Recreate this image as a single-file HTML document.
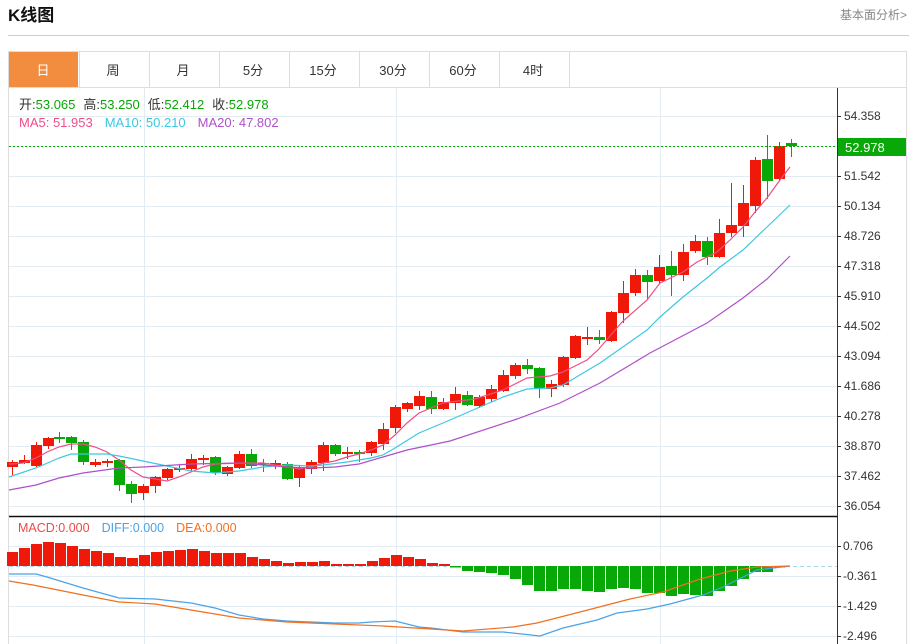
<!DOCTYPE html>
<html><head><meta charset="utf-8"><style>
html,body{margin:0;padding:0;background:#fff;width:909px;height:644px;overflow:hidden;font-family:"Liberation Sans","Noto Sans CJK SC",sans-serif}
svg{position:absolute;left:0;top:0}
</style></head><body>
<svg id="s" width="909" height="644" xmlns="http://www.w3.org/2000/svg" font-family="Liberation Sans, Noto Sans CJK SC, sans-serif"></svg>
<script>
var s=document.getElementById('s'),h='';
function L(x1,y1,x2,y2,c,w,d){h+='<line x1="'+x1+'" y1="'+y1+'" x2="'+x2+'" y2="'+y2+'" stroke="'+c+'" stroke-width="'+(w||1)+'"'+(d?' stroke-dasharray="'+d+'"':'')+'/>';}
function R(x,y,w,hh,c){h+='<rect x="'+x+'" y="'+y+'" width="'+w+'" height="'+hh+'" fill="'+c+'"/>';}
function T(x,y,t,c,sz,a,wt){h+='<text x="'+x+'" y="'+y+'" fill="'+c+'" font-size="'+(sz||12)+'"'+(a?' text-anchor="'+a+'"':'')+(wt?' font-weight="'+wt+'"':'')+'>'+t+'</text>';}
function P(pts,c,w){h+='<polyline fill="none" stroke="'+c+'" stroke-width="'+(w||1.2)+'" points="'+pts.map(function(p){return p.join(',')}).join(' ')+'"/>';}
// header
T(8,21,'K线图','#111',17,null,'bold');
T(907,19,'基本面分析&gt;','#888',12,'end');
L(8,35.5,909,35.5,'#ccc',1);
// panel
h+='<rect x="8.5" y="51.5" width="898" height="600" fill="none" stroke="#ddd"/>';
R(9,52,69,35,'#f28c3e');
var tabs=['日','周','月','5分','15分','30分','60分','4时'];
for(var i=0;i<8;i++){T(43+i*70,75,tabs[i],i==0?'#fff':'#333',13,'middle'); if(i>0)L(9+i*70+0.5,52,9+i*70+0.5,87,'#ddd');}
L(569.5,52,569.5,87,'#ddd');
L(8,87.5,907,87.5,'#ddd');
// grid
for(var y=116;y<=506;y+=30)L(9,y+0.5,837,y+0.5,'#e3ebf3');
[546,576,606,636].forEach(function(y){L(9,y+0.5,837,y+0.5,'#e3ebf3')});
[144,396,660].forEach(function(x){L(x+0.5,88,x+0.5,644,'#e3ebf3')});
// axes
L(837.5,88,837.5,644,'#333');
L(9,516.5,837,516.5,'#111',1.5);
var pl=['54.358','52.950','51.542','50.134','48.726','47.318','45.910','44.502','43.094','41.686','40.278','38.870','37.462','36.054'];
for(var i=0;i<14;i++){if(i==1)continue;var y=116+i*30;L(837,y+0.5,841,y+0.5,'#333');T(844,y+4,pl[i],'#333',12);}
[['0.706',546],['-0.361',576],['-1.429',606],['-2.496',636]].forEach(function(a){L(837,a[1]+0.5,841,a[1]+0.5,'#333');T(843,a[1]+4,a[0],'#333',12);});
// candles [x,top,bot,high,low,color]
var C=[[12,462,467,460,475,'r'],[24,460,463,455,464,'r'],[36,445,466,442,467,'r'],[48,438,446,437,449,'r'],[59,437,439,432,443,'g'],[71,437,443,436,450,'g'],[83,442,462,440,465,'g'],[95,462,465,459,467,'r'],[107,461,463,459,467,'r'],[119,460,485,459,491,'g'],[131,484,494,481,503,'g'],[143,486,493,484,500,'r'],[155,477,486,476,493,'r'],[167,469,478,468,480,'r'],[179,468,470,465,472,'r'],[191,459,469,454,471,'r'],[203,458,460,455,465,'r'],[215,457,473,456,475,'g'],[227,467,474,466,476,'r'],[239,454,468,451,469,'r'],[251,454,466,449,468,'g'],[263,463,464,459,472,'g'],[275,463,465,460,469,'r'],[287,464,479,462,480,'g'],[299,467,478,466,487,'r'],[311,462,469,460,474,'r'],[323,445,463,442,471,'r'],[335,445,454,444,456,'g'],[347,452,454,447,459,'r'],[359,452,454,450,462,'g'],[371,442,453,441,456,'r'],[383,429,444,423,450,'r'],[395,407,428,405,433,'r'],[407,403,409,402,412,'r'],[419,396,406,391,410,'r'],[431,397,409,391,414,'g'],[443,402,409,398,410,'r'],
[455,394,403,387,410,'r'],[467,395,405,391,406,'g'],[479,397,406,395,408,'r'],[491,389,399,385,402,'r'],[503,375,391,370,392,'r'],[515,365,376,363,379,'r'],[527,365,369,359,374,'g'],[539,368,388,367,398,'g'],[551,384,389,380,397,'r'],[563,357,385,356,387,'r'],[575,336,358,335,359,'r'],[587,337,339,327,345,'r'],[599,337,340,330,344,'g'],[611,312,341,311,342,'r'],[623,293,313,281,323,'r'],[635,275,293,269,296,'r'],[647,275,282,270,299,'g'],[659,267,281,255,283,'r'],[671,266,275,251,296,'g'],[683,252,275,244,281,'r'],[695,241,251,235,253,'r'],[707,241,257,237,265,'g'],[719,233,257,219,258,'r'],[731,225,233,183,237,'r'],[743,203,226,185,237,'r'],[755,160,206,157,213,'r'],[767,159,181,135,199,'g'],[779,146,179,142,180,'r'],[791,143,146,139,157,'g']];
C.forEach(function(c){var col=c[5]=='r'?'#f01808':'#08a808';L(c[0]+0.5,c[3],c[0]+0.5,c[4],col,1);R(c[0]-5,c[1],11,Math.max(1.5,c[2]-c[1]),col);});
// MA lines
P([[9,464],[12,464],[23,463],[36,458],[47,452],[59,447],[71,444],[83,444],[95,447],[107,452],[119,460],[131,470],[143,477],[155,479],[167,481],[179,477],[191,472],[203,467],[215,464],[239,463],[263,463],[275,465],[287,467],[299,469],[311,467],[323,463],[335,461],[347,457],[359,454],[371,450],[383,445],[395,435],[407,423],[419,413],[431,408],[443,403],[450,402],[475,399],[503,390],[527,378],[550,376],[563,372],[587,360],[598,350],[622,322],[647,300],[660,283],[683,272],[697,262],[717,252],[730,240],[743,227],[755,212],[767,198],[780,180],[790,167]],'#ee4f86');
P([[9,477],[36,468],[59,458],[71,454],[83,454],[107,454],[119,456],[143,461],[167,466],[191,471],[215,473],[239,471],[263,467],[287,465],[311,466],[323,465],[347,462],[371,458],[383,455],[395,448],[419,433],[443,423],[450,420],[503,397],[527,389],[550,388],[563,385],[600,363],[647,330],[660,317],[683,297],[707,278],[720,267],[743,250],[767,227],[790,205]],'#3cc8e0');
P([[9,490],[36,485],[59,478],[83,473],[119,468],[143,467],[191,464],[239,463],[287,467],[311,468],[335,467],[359,464],[383,457],[407,450],[431,445],[450,441],[517,419],[560,403],[600,383],[650,353],[707,323],[743,298],[767,279],[790,256]],'#b050c8');
// current price
L(9,146.5,837,146.5,'#08a808',1,'2,2');
R(838,138,68,18,'#08a808');T(845,152,'52.978','#fff',13);
// info text
h+='<text x="19" y="109" font-size="13"><tspan fill="#333">开:</tspan><tspan fill="#08a808">53.065</tspan><tspan fill="#333" dx="8">高:</tspan><tspan fill="#08a808">53.250</tspan><tspan fill="#333" dx="8">低:</tspan><tspan fill="#08a808">52.412</tspan><tspan fill="#333" dx="8">收:</tspan><tspan fill="#08a808">52.978</tspan></text>';
h+='<text x="19" y="127" font-size="13"><tspan fill="#ee4f86">MA5: 51.953</tspan><tspan fill="#3cc8e0" dx="12">MA10: 50.210</tspan><tspan fill="#b050c8" dx="12">MA20: 47.802</tspan></text>';
h+='<text x="18" y="532" font-size="12.5"><tspan fill="#f04848">MACD:0.000</tspan><tspan fill="#4aa3e8" dx="12">DIFF:0.000</tspan><tspan fill="#f07020" dx="12">DEA:0.000</tspan></text>';
// MACD
L(9,566.5,837,566.5,'#a8d8ea',1,'4,3');
var red=[552,548,544,542,543,546,549,551,553,557,558,555,552,551,550,549,551,553,553,553,557,559,561,563,562,562,561,564,564,564,561,558,555,557,559,563,564];
red.forEach(function(t,i){R(12+i*12-5,t,11,566-t,'#f01808');});
var gr=[567.5,571,572,573,575,579,585,591,591,589,589,591,592,589,588,589,593,593,596,594,595,596,591,586,579,572,572,567.5];
gr.forEach(function(b,i){R(455+i*12-5,566,11,b-566,'#08a808');});
P([[9,574],[36,574],[47,577],[83,588],[119,598],[155,599],[191,603],[215,608],[239,615],[263,619],[287,621],[335,623],[359,623],[371,622],[395,621],[419,627],[431,628],[463,632],[503,632],[540,636],[563,628],[597,620],[617,613],[647,609],[670,604],[703,595],[723,587],[743,577],[757,570],[790,566]],'#4aa3e8');
P([[9,581],[33,585],[83,595],[119,602],[155,604],[191,610],[239,618],[287,622],[335,624],[383,626],[431,629],[463,631],[513,627],[537,623],[580,612],[630,599],[663,592],[697,580],[730,571],[757,567],[790,566]],'#f07020');
s.innerHTML=h;
</script>
</body></html>
